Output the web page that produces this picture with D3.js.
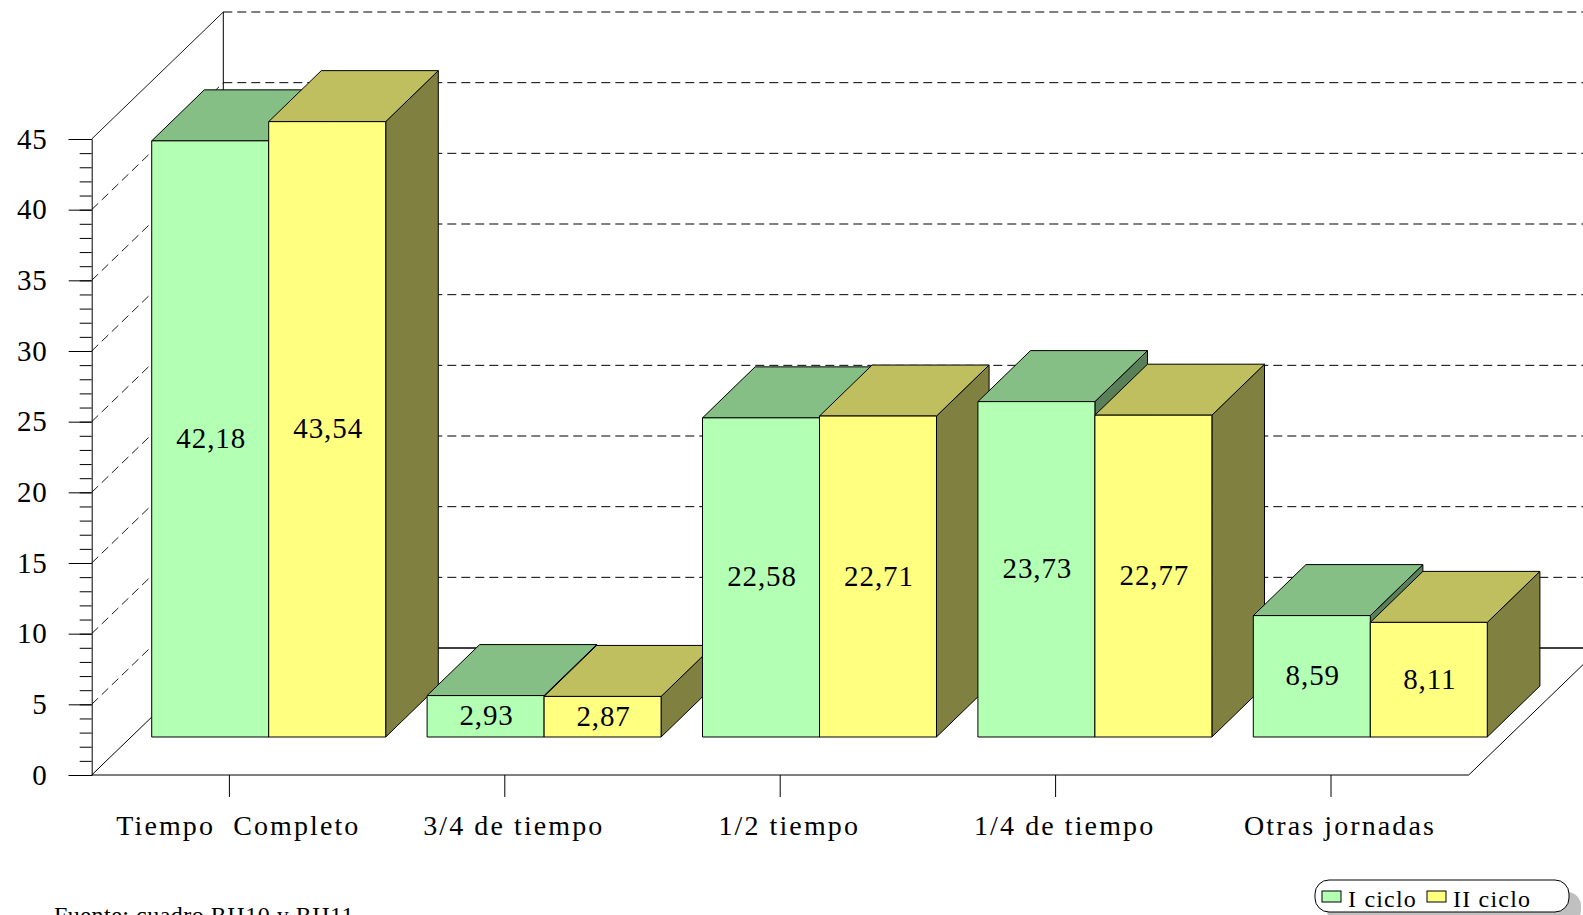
<!DOCTYPE html>
<html>
<head>
<meta charset="utf-8">
<script src="https://cdn.jsdelivr.net/npm/d3@7"></script>
<style>
   html, body { margin: 0; padding: 0; background: #fff; overflow: hidden; }
   svg { display: block; }
   text { font-family: "Liberation Serif", serif; fill: #000; }
</style>
</head>
<body>
<div id="chart"></div>
<script>
const categories = ['Tiempo  Completo', '3/4 de tiempo', '1/2 tiempo', '1/4 de tiempo', 'Otras jornadas'];
const seriesNames = ['I ciclo', 'II ciclo'];
const ciclo1 = [42.18, 2.93, 22.58, 23.73, 8.59];
const ciclo2 = [43.54, 2.87, 22.71, 22.77, 8.11];
const yTicks = [0, 5, 10, 15, 20, 25, 30, 35, 40, 45];
const yMinorTicks = d3.range(0, 46);
const seriesValues = [ciclo1, ciclo2];

const width = 1583;
const height = 915;

// the box: front floor edge, then how far back the walls and the bars go
const plotLeft = 91.7, plotRight = 1468.7, plotTop = 139, plotBottom = 775;
const wall = { dx: 131.6, dy: 127 };
const front = { dx: 39.3, dy: 38 };
const depth = { dx: 52.6, dy: 51 };

const colors = [
   { front: '#b3ffb3', top: '#86bf86', side: '#5a805a' },
   { front: '#ffff80', top: '#bfbf60', side: '#808040' }
];

const svg = d3.select('#chart')
   .append('svg')
   .attr('width', width)
   .attr('height', height);

const xScale = d3.scaleBand().domain(categories).range([plotLeft, plotRight]);
const xInner = d3.scaleBand()
   .domain(seriesNames)
   .range([0, xScale.bandwidth()])
   .paddingInner(0)
   .paddingOuter(0.177);
const yScale = d3.scaleLinear().domain([0, 45]).range([plotBottom, plotTop]);

const drawLine = (g, x1, y1, x2, y2) => g.append('line')
   .attr('x1', x1).attr('y1', y1).attr('x2', x2).attr('y2', y2)
   .attr('stroke', '#000').attr('stroke-width', 1);

// walls and floor
const walls = svg.append('g');
yTicks.filter(d => d > 0).forEach(d => {
   const y = yScale(d);
   drawLine(walls, plotLeft, y, plotLeft + wall.dx, y - wall.dy)
      .attr('stroke-dasharray', d === 45 ? null : '9 5')
      .attr('stroke-width', 0.9);
   drawLine(walls, plotLeft + wall.dx, y - wall.dy, width, y - wall.dy)
      .attr('stroke-dasharray', '9 5');
});
drawLine(walls, plotLeft + wall.dx, plotTop - wall.dy, plotLeft + wall.dx, plotBottom - wall.dy);
drawLine(walls, plotLeft + wall.dx, plotBottom - wall.dy, width, plotBottom - wall.dy).attr('stroke-width', 1.4);
drawLine(walls, plotLeft, plotBottom, plotLeft + wall.dx, plotBottom - wall.dy);
drawLine(walls, plotRight, plotBottom, plotRight + wall.dx, plotBottom - wall.dy);

// bars, left to right so nearer ones cover the ones before
const barsG = svg.append('g');
categories.forEach((cat, i) => {
   seriesNames.forEach((name, s) => {
      const v = seriesValues[s][i];
      const x0 = xScale(cat) + xInner(name) + front.dx;
      const x1 = x0 + xInner.bandwidth();
      const y0 = yScale(0) - front.dy;
      const y1 = yScale(v) - front.dy;
      const g = barsG.append('g')
         .attr('stroke', '#000')
         .attr('stroke-width', 1)
         .attr('stroke-linejoin', 'round');

      g.append('polygon')
         .attr('points', [[x1, y0], [x1 + depth.dx, y0 - depth.dy], [x1 + depth.dx, y1 - depth.dy], [x1, y1]].join(' '))
         .attr('fill', colors[s].side);
      g.append('polygon')
         .attr('points', [[x0, y1], [x1, y1], [x1 + depth.dx, y1 - depth.dy], [x0 + depth.dx, y1 - depth.dy]].join(' '))
         .attr('fill', colors[s].top);
      g.append('rect')
         .attr('x', x0)
         .attr('y', y1)
         .attr('width', x1 - x0)
         .attr('height', y0 - y1)
         .attr('fill', colors[s].front);
   });
});

// value labels on top of everything
categories.forEach((cat, i) => {
   seriesNames.forEach((name, s) => {
      const v = seriesValues[s][i];
      const x0 = xScale(cat) + xInner(name) + front.dx;
      const y0 = yScale(0) - front.dy;
      const y1 = yScale(v) - front.dy;
      svg.append('text')
         .attr('x', x0 + xInner.bandwidth() / 2 + 1)
         .attr('y', (y0 + y1) / 2 + 9)
         .attr('text-anchor', 'middle')
         .style('font-size', '29px')
         .style('letter-spacing', '0.9px')
         .text(v.toFixed(2).replace('.', ','));
   });
});

// axes
const yMinor = d3.axisLeft(yScale).tickValues(yMinorTicks).tickSize(12).tickFormat('');
const yAxis = d3.axisLeft(yScale).tickValues(yTicks).tickSize(23).tickPadding(21);
const xAxis = d3.axisBottom(xScale).tickSize(22).tickSizeOuter(0);

const styleAxis = g => {
   g.selectAll('line').attr('stroke', '#000').attr('stroke-width', 1);
   g.select('.domain').attr('stroke', '#000').attr('stroke-width', 1);
};

svg.append('g')
   .attr('transform', `translate(${plotLeft},0)`)
   .call(yMinor)
   .call(g => g.select('.domain').remove())
   .call(styleAxis);

svg.append('g')
   .attr('transform', `translate(${plotLeft},0)`)
   .call(yAxis)
   .call(styleAxis)
   .selectAll('text')
   .style('font-size', '29px')
   .style('letter-spacing', '0.9px')
   .style('font-family', '"Liberation Serif", serif')
   .attr('dy', '0.32em');

const xG = svg.append('g')
   .attr('transform', `translate(0,${plotBottom})`)
   .call(xAxis)
   .call(styleAxis);
xG.select('.domain').attr('d', `M${plotLeft},0H${plotRight}`);
xG.selectAll('text')
   .attr('x', 9)
   .attr('y', 60)
   .attr('dy', 0)
   .style('font-size', '28px')
   .style('font-family', '"Liberation Serif", serif')
   .style('letter-spacing', '2.1px')
   .style('white-space', 'pre');

// source note, cut by the bottom of the page like the original
svg.append('text')
   .attr('x', 54)
   .attr('y', 923)
   .style('font-size', '24px')
   .style('letter-spacing', '0.5px')
   .text('Fuente: cuadro RH10 y RH11');

// legend
const legend = svg.append('g');
legend.append('rect')
   .attr('x', 1327).attr('y', 892).attr('width', 254).attr('height', 32)
   .attr('rx', 14)
   .attr('fill', '#c0c0c0');
legend.append('rect')
   .attr('x', 1315).attr('y', 880).attr('width', 254).attr('height', 32)
   .attr('rx', 14)
   .attr('fill', '#fff')
   .attr('stroke', '#000');
const legendX = d3.scaleOrdinal().domain(seriesNames).range([1322, 1427]);
seriesNames.forEach((name, s) => {
   legend.append('rect')
      .attr('x', legendX(name)).attr('y', 891).attr('width', 19).attr('height', 11)
      .attr('fill', colors[s].front)
      .attr('stroke', '#000');
   legend.append('text')
      .attr('x', legendX(name) + 26)
      .attr('y', 907)
      .style('font-size', '24px')
      .style('letter-spacing', '1.2px')
      .text(name);
});
</script>
</body>
</html>
